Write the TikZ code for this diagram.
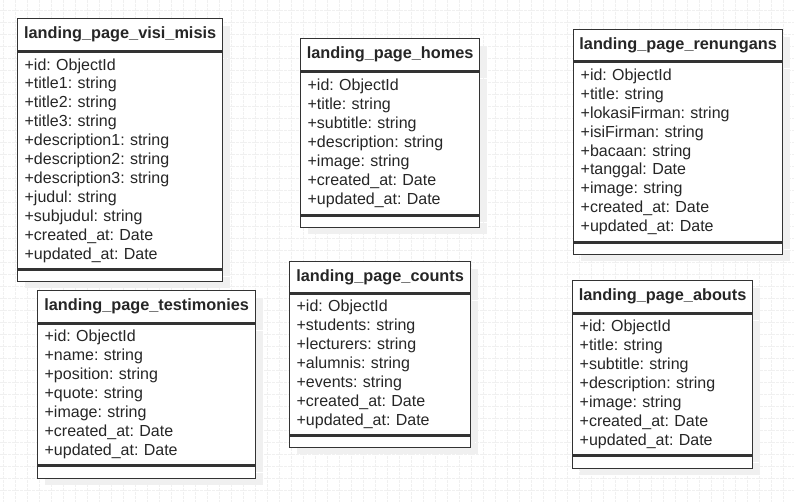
\documentclass[tikz,border=0pt]{standalone}
\usepackage{fontspec}
\setmainfont{Liberation Sans}
\usetikzlibrary{positioning,shadows}
\frenchspacing

\begin{document}
\begin{tikzpicture}[x=1pt,y=-1pt,node distance=0pt,
  gridline/.style={black!6,line width=0.6pt,dash pattern=on 3pt off 1pt},
  cast/.style={drop shadow={shadow xshift=7pt,shadow yshift=-7pt,fill=black!6,opacity=1}},
  hdr/.style={cast,draw=black!80,line width=1.3pt,fill=white,minimum height=32pt,inner sep=0pt,font=\bfseries\fontsize{16.3}{19}\selectfont,text=black!85,anchor=north west},
  body/.style={cast,draw=black!80,line width=1.3pt,fill=white,inner xsep=7pt,inner ysep=0pt,align=left,font=\fontsize{16}{18.9}\selectfont,text=black!85},
  foot/.style={cast,draw=black!80,line width=1.3pt,fill=white,minimum height=11pt,inner sep=0pt}]
\useasboundingbox (0,0) rectangle (794,502);
\fill[white] (0,0) rectangle (794,502);
% background grid
\foreach \gx in {3,15,...,794} \draw[gridline] (\gx,0) -- (\gx,502);
\foreach \gy in {10,22,...,502} \draw[gridline] (0,\gy) -- (794,\gy);

% top row
\node[hdr,minimum width=205pt] (visi) at (17,18) {landing\_page\_visi\_misis};
\node[body,text width=191pt,minimum height=217pt,below=of visi] (visi-a) {+id: ObjectId\\+title1: string\\+title2: string\\+title3: string\\+description1: string\\+description2: string\\+description3: string\\+judul: string\\+subjudul: string\\+created\_at: Date\\+updated\_at: Date};
\node[foot,minimum width=205pt,below=of visi-a] (visi-f) {};

\node[hdr,minimum width=179pt] (homes) at (300,38) {landing\_page\_homes};
\node[body,text width=165pt,minimum height=143pt,below=of homes] (homes-a) {+id: ObjectId\\+title: string\\+subtitle: string\\+description: string\\+image: string\\+created\_at: Date\\+updated\_at: Date};
\node[foot,minimum width=179pt,below=of homes-a] (homes-f) {};

\node[hdr,minimum width=209pt,minimum height=31pt] (renungan) at (573,29) {landing\_page\_renungans};
\node[body,text width=195pt,minimum height=180pt,below=of renungan] (renungan-a) {+id: ObjectId\\+title: string\\+lokasiFirman: string\\+isiFirman: string\\+bacaan: string\\+tanggal: Date\\+image: string\\+created\_at: Date\\+updated\_at: Date};
\node[foot,minimum width=209pt,below=of renungan-a] (renungan-f) {};

% bottom row
\node[hdr,minimum width=218pt] (testi) at (37,290) {landing\_page\_testimonies};
\node[body,text width=204pt,minimum height=141pt,below=of testi] (testi-a) {+id: ObjectId\\+name: string\\+position: string\\+quote: string\\+image: string\\+created\_at: Date\\+updated\_at: Date};
\node[foot,minimum width=218pt,minimum height=12pt,below=of testi-a] (testi-f) {};

\node[hdr,minimum width=181pt,minimum height=31pt] (counts) at (289,261) {landing\_page\_counts};
\node[body,text width=167pt,minimum height=141pt,below=of counts] (counts-a) {+id: ObjectId\\+students: string\\+lecturers: string\\+alumnis: string\\+events: string\\+created\_at: Date\\+updated\_at: Date};
\node[foot,minimum width=181pt,below=of counts-a] (counts-f) {};

\node[hdr,minimum width=180pt] (abouts) at (572,280) {landing\_page\_abouts};
\node[body,text width=166pt,minimum height=141pt,below=of abouts] (abouts-a) {+id: ObjectId\\+title: string\\+subtitle: string\\+description: string\\+image: string\\+created\_at: Date\\+updated\_at: Date};
\node[foot,minimum width=180pt,minimum height=12pt,below=of abouts-a] (abouts-f) {};
\end{tikzpicture}
\end{document}
